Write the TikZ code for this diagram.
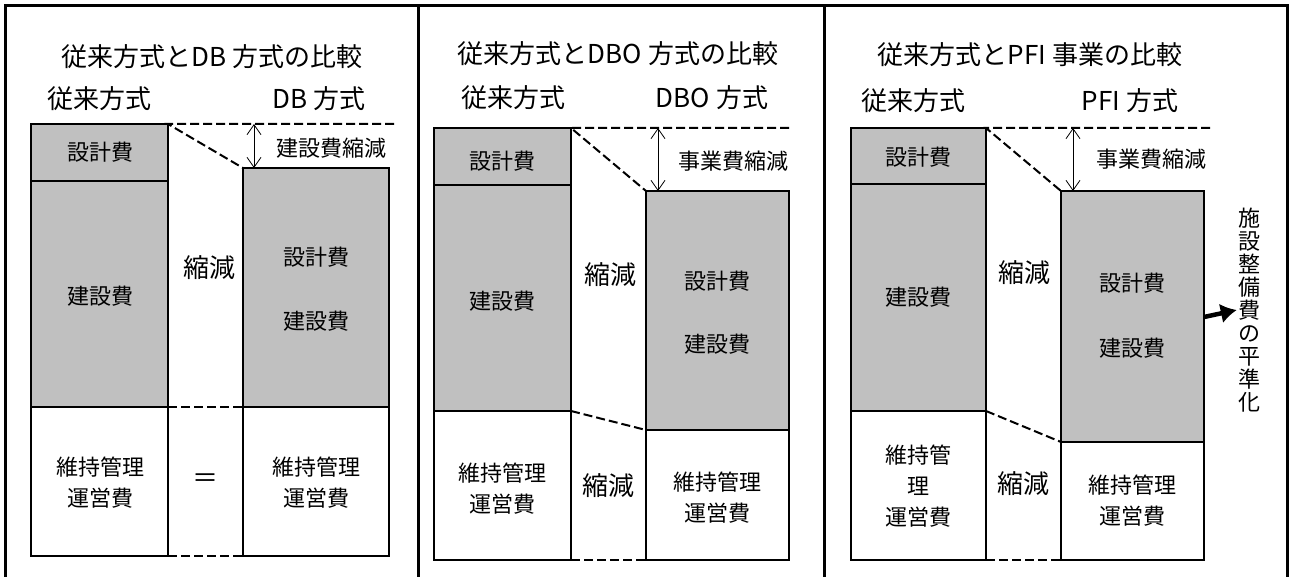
\documentclass[tikz,border=0pt]{standalone}
\usepackage{fontspec}
\newfontfamily\jpfont{Noto Sans CJK JP}
\usetikzlibrary{arrows.meta}
\definecolor{costgray}{RGB}{192,192,192}

\begin{document}
\begin{tikzpicture}[x=1pt,y=-1pt,
    frame/.style={line width=3pt},
    box/.style={line width=1.8pt},
    guide/.style={line width=2pt,dash pattern=on 9pt off 4pt},
    cut/.style={line width=0.8pt,{Straight Barb[length=10pt,width=14pt]}-{Straight Barb[length=10pt,width=14pt]}},
    ttl/.style={font=\jpfont\fontsize{26}{30}\selectfont},
    lbl/.style={font=\jpfont\fontsize{22}{31}\selectfont,align=center}]
  \useasboundingbox (0,0) rectangle (1290,577);
  \draw[frame] (5,577) |- (1287,6) -- (1287,577);
  \draw[frame] (418,6) -- (418,577);
  \draw[frame] (824,6) -- (824,577);

  % DB
  \node[ttl] (dbTitle) at (212,57) {従来方式とDB 方式の比較};
  \node[ttl] (dbOld) at (99,99) {従来方式};
  \node[ttl] (dbNew) at (319,99) {DB 方式};
  \draw[box,fill=costgray] (31,124) rectangle (168,407);
  \draw[box] (31,181) -- (168,181);
  \draw[box] (31,407) rectangle (168,556);
  \draw[box,fill=costgray] (243,168) rectangle (389,407);
  \draw[box] (243,407) rectangle (389,556);
  \coordinate (dbA) at (168,124);
  \coordinate (dbB) at (243,168);
  \coordinate (dbC) at (394,124);
  \coordinate (dbD) at (168,407);
  \coordinate (dbE) at (243,407);
  \coordinate (dbF) at (168,556);
  \coordinate (dbG) at (243,556);
  \coordinate (dbUp) at (254,124);
  \coordinate (dbDown) at (254,168);
  \draw[guide] (dbC) -- (dbA) -- (dbB);
  \draw[guide] (dbD) -- (dbE);
  \draw[guide] (dbF) -- (dbG);
  \draw[cut] (dbUp) -- (dbDown);
  \node[lbl] (dbCut) at (331,148) {建設費縮減};
  \node[lbl] (dbOldDes) at (100,152) {設計費};
  \node[lbl] (dbOldCon) at (100,296) {建設費};
  \node[lbl] (dbOldOps) at (100,483) {維持管理\\運営費};
  \node[lbl] (dbNewDes) at (316,257) {設計費};
  \node[lbl] (dbNewCon) at (316,321) {建設費};
  \node[lbl] (dbNewOps) at (316,483) {維持管理\\運営費};
  \node[ttl] (dbLess) at (209,268) {縮減};
  \node[ttl] (dbSame) at (205,481) {＝};

  % DBO
  \node[ttl] (dboTitle) at (618,54) {従来方式とDBO 方式の比較};
  \node[ttl] (dboOld) at (513,98) {従来方式};
  \node[ttl] (dboNew) at (712,98) {DBO 方式};
  \draw[box,fill=costgray] (434,128) rectangle (571,411);
  \draw[box] (434,185) -- (571,185);
  \draw[box] (434,411) rectangle (571,560);
  \draw[box,fill=costgray] (646,191) rectangle (789,430);
  \draw[box] (646,430) rectangle (789,560);
  \coordinate (dboA) at (571,128);
  \coordinate (dboB) at (646,191);
  \coordinate (dboC) at (789,128);
  \coordinate (dboD) at (571,411);
  \coordinate (dboE) at (646,430);
  \coordinate (dboF) at (571,560);
  \coordinate (dboG) at (646,560);
  \coordinate (dboUp) at (658,128);
  \coordinate (dboDown) at (658,191);
  \draw[guide] (dboC) -- (dboA) -- (dboB);
  \draw[guide] (dboD) -- (dboE);
  \draw[guide] (dboF) -- (dboG);
  \draw[cut] (dboUp) -- (dboDown);
  \node[lbl] (dboCut) at (733,161) {事業費縮減};
  \node[lbl] (dboOldDes) at (502,161) {設計費};
  \node[lbl] (dboOldCon) at (502,301) {建設費};
  \node[lbl] (dboOldOps) at (502,489) {維持管理\\運営費};
  \node[lbl] (dboNewDes) at (717,281) {設計費};
  \node[lbl] (dboNewCon) at (717,344) {建設費};
  \node[lbl] (dboNewOps) at (717,498) {維持管理\\運営費};
  \node[ttl] (dboLess) at (610,275) {縮減};
  \node[ttl] (dboLessOps) at (608,486) {縮減};

  % PFI
  \node[ttl] (pfiTitle) at (1030,55) {従来方式とPFI 事業の比較};
  \node[ttl] (pfiOld) at (913,101) {従来方式};
  \node[ttl] (pfiNew) at (1130,101) {PFI 方式};
  \draw[box,fill=costgray] (851,128) rectangle (986,411);
  \draw[box] (851,184) -- (986,184);
  \draw[box] (851,411) rectangle (986,560);
  \draw[box,fill=costgray] (1061,191) rectangle (1204,442);
  \draw[box] (1061,442) rectangle (1204,560);
  \coordinate (pfiA) at (986,128);
  \coordinate (pfiB) at (1061,191);
  \coordinate (pfiC) at (1210,128);
  \coordinate (pfiD) at (986,411);
  \coordinate (pfiE) at (1061,442);
  \coordinate (pfiF) at (986,560);
  \coordinate (pfiG) at (1061,560);
  \coordinate (pfiUp) at (1073,128);
  \coordinate (pfiDown) at (1073,191);
  \coordinate (pfiOut) at (1204,317);
  \draw[guide] (pfiC) -- (pfiA) -- (pfiB);
  \draw[guide] (pfiD) -- (pfiE);
  \draw[guide] (pfiF) -- (pfiG);
  \draw[cut] (pfiUp) -- (pfiDown);
  \node[lbl] (pfiCut) at (1151,159) {事業費縮減};
  \node[lbl] (pfiOldDes) at (918,157) {設計費};
  \node[lbl] (pfiOldCon) at (918,297) {建設費};
  \node[lbl] (pfiOldOps) at (918,486) {維持管\\理\\運営費};
  \node[lbl] (pfiNewDes) at (1132,283) {設計費};
  \node[lbl] (pfiNewCon) at (1132,348) {建設費};
  \node[lbl] (pfiNewOps) at (1132,501) {維持管理\\運営費};
  \node[ttl] (pfiLess) at (1024,273) {縮減};
  \node[ttl] (pfiLessOps) at (1023,484) {縮減};
  \node[lbl,font=\jpfont\fontsize{22}{23}\selectfont,inner sep=1pt] (pfiFlat) at (1249,310)
    {施\\設\\整\\備\\費\\の\\平\\準\\化};
  \draw[line width=4.5pt,-{Latex[length=16pt,width=20pt]}] (pfiOut) -- (pfiFlat.west);
\end{tikzpicture}
\end{document}
